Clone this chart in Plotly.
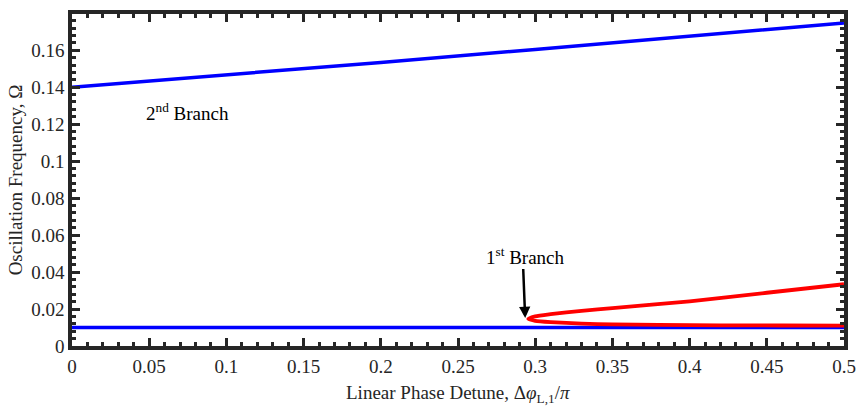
import plotly.graph_objects as go

# Detune axis (Δφ_L,1 / π) and oscillation frequency Ω for each branch
detune_2nd = [0.0, 0.1, 0.2, 0.3, 0.4, 0.5]
omega_2nd = [0.1400, 0.1466, 0.1534, 0.1604, 0.1675, 0.1748]

detune_1st_blue = [0.0, 0.5]
omega_1st_blue = [0.0100, 0.0100]

# Red bifurcating branch: upper part then lower part, joined at the fold
detune_red_upper = [0.5, 0.45, 0.40, 0.35, 0.33, 0.31, 0.30, 0.2955]
omega_red_upper = [0.0334, 0.0288, 0.0242, 0.0205, 0.0190, 0.0172, 0.0160, 0.0146]
detune_red_lower = [0.2955, 0.30, 0.31, 0.33, 0.35, 0.38, 0.42, 0.46, 0.50]
omega_red_lower = [0.0146, 0.0136, 0.0129, 0.0121, 0.0117, 0.0114, 0.0112, 0.0111, 0.0110]

x_ticks = [0, 0.05, 0.1, 0.15, 0.2, 0.25, 0.3, 0.35, 0.4, 0.45, 0.5]
x_tick_text = ["0", "0.05", "0.1", "0.15", "0.2", "0.25", "0.3", "0.35", "0.4", "0.45", "0.5"]
y_ticks = [0, 0.02, 0.04, 0.06, 0.08, 0.1, 0.12, 0.14, 0.16]
y_tick_text = ["0", "0.02", "0.04", "0.06", "0.08", "0.1", "0.12", "0.14", "0.16"]

FONT = "Liberation Serif, Times New Roman, serif"
AXIS_COLOR = "#262626"
FS = 19

fig = go.Figure()
fig.add_trace(go.Scatter(x=detune_2nd, y=omega_2nd, mode="lines",
                         line=dict(color="#0000ff", width=3.5), showlegend=False))
fig.add_trace(go.Scatter(x=detune_1st_blue, y=omega_1st_blue, mode="lines",
                         line=dict(color="#0000ff", width=3.5), showlegend=False))
fig.add_trace(go.Scatter(x=detune_red_upper + detune_red_lower[1:],
                         y=omega_red_upper + omega_red_lower[1:], mode="lines",
                         line=dict(color="#ff0000", width=3.8, shape="spline", smoothing=0.6),
                         showlegend=False))

axis_common = dict(
    showline=True, linecolor=AXIS_COLOR, linewidth=3.5, mirror="ticks",
    ticks="inside", ticklen=8, tickwidth=2.5, tickcolor=AXIS_COLOR,
    showgrid=False, zeroline=False,
    tickfont=dict(family=FONT, size=FS, color="#262626"),
)

fig.update_xaxes(
    range=[0, 0.5], tickvals=x_ticks, ticktext=x_tick_text,
    minor=dict(ticks="inside", ticklen=4, tickwidth=2.5, tickcolor=AXIS_COLOR, dtick=0.01, tick0=0),
    **axis_common,
)
fig.update_yaxes(
    range=[0, 0.1796], tickvals=y_ticks, ticktext=y_tick_text,
    minor=dict(ticks="inside", ticklen=4, tickwidth=2.5, tickcolor=AXIS_COLOR, dtick=0.004, tick0=0),
    title=dict(text="Oscillation Frequency, Ω",
               font=dict(family=FONT, size=FS, color="#262626"), standoff=5),
    **axis_common,
)

# x-axis title placed below the tick labels
fig.add_annotation(x=0.5, y=-0.145, xref="paper", yref="paper",
                   xanchor="center", yanchor="middle", showarrow=False,
                   text="Linear Phase Detune, Δ<i>φ</i><sub>L,1</sub>/<i>π</i>",
                   font=dict(family=FONT, size=FS, color="#262626"))

fig.add_annotation(x=0.0748, y=0.1265, xref="x", yref="y", showarrow=False,
                   text="2<sup>nd</sup> Branch",
                   font=dict(family=FONT, size=FS, color="#000000"))
fig.add_annotation(x=0.2937, y=0.0485, xref="x", yref="y", showarrow=False,
                   text="1<sup>st</sup> Branch",
                   font=dict(family=FONT, size=FS, color="#000000"))
fig.add_annotation(x=0.2935, y=0.0152, xref="x", yref="y",
                   ax=0.2922, ay=0.0425, axref="x", ayref="y",
                   text="", showarrow=True, arrowhead=2, arrowsize=0.9,
                   arrowwidth=2.5, arrowcolor="#000000")

fig.update_layout(
    width=866, height=408,
    margin=dict(l=72, r=15, t=10, b=62),
    plot_bgcolor="white", paper_bgcolor="white",
    font=dict(family=FONT, size=FS, color="#262626"),
)

fig.write_html("out.html")
